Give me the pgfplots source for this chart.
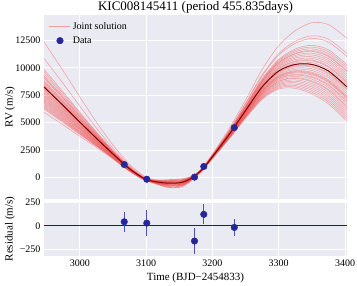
\documentclass[border=0pt]{standalone}
\usepackage{pgfplots}
\pgfplotsset{compat=1.18}
\usepackage{fontspec}
\setmainfont{Liberation Serif}
\definecolor{bgc}{RGB}{234,234,242}
\definecolor{jlc}{RGB}{240,85,85}
\definecolor{bestc}{RGB}{125,0,0}
\definecolor{datc}{RGB}{38,38,150}
\definecolor{errc}{RGB}{80,80,185}
\definecolor{zlc}{RGB}{128,0,0}
\pgfplotsset{
  sns/.style={
    scale only axis, width=303pt,
    xmin=2946, xmax=3403,
    axis background/.style={fill=bgc},
    axis line style={draw=none},
    grid=major, major grid style={white, line width=0.9pt},
    major tick length=0pt,
    tick label style={font=\fontsize{10}{12}\selectfont},
    label style={font=\fontsize{11}{13}\selectfont},
    /pgf/number format/assume math mode=true,
    /pgf/number format/1000 sep={},
    scaled ticks=false,
    xtick={3000,3100,3200,3300,3400},
    ylabel style={at={(axis description cs:-0.112,0.5)}, anchor=center},
  },
  jl/.style={color=jlc, opacity=0.5, line width=0.55pt, smooth, forget plot},
}
\begin{document}
\begin{tikzpicture}
\begin{axis}[sns, name=top, height=184pt,
  ymin=-1950, ymax=14800,
  ytick={0,2500,5000,7500,10000,12500},
  xticklabels={},
  ylabel={RV (m/s)},
  title={KIC008145411 (period 455.835days)},
  title style={font=\fontsize{13}{15}\selectfont, yshift=-8pt},
  legend cell align=left,
  legend style={draw=none, fill=none, at={(0,1)}, anchor=north west, xshift=2pt, yshift=-3pt, font=\fontsize{10}{12}\selectfont, row sep=2pt},
]
\addlegendimage{legend image code/.code={\draw[jlc, opacity=0.5, line width=0.6pt] (0pt,0pt) -- (21pt,0pt);}}
\addlegendentry{Joint solution}
\addlegendimage{legend image code/.code={\fill[datc] (10.5pt,0pt) circle (3.3pt);}}
\addlegendentry{Data}
\addplot[jl] coordinates {(2946,12350)(2975,9707)(3000,7346)(3025,5056)(3050,2970)(3075,1210)(3100,35)(3125,-290)(3140,-255)(3155,-195)(3170,105)(3185,914)(3200,2140)(3225,4428)(3250,7060)(3275,9834)(3300,12004)(3325,13372)(3350,14092)(3375,13924)(3403,12666)};
\addplot[jl] coordinates {(2946,10850)(2975,8552)(3000,6506)(3025,4516)(3050,2670)(3075,1060)(3100,-40)(3125,-350)(3140,-340)(3155,-270)(3170,70)(3185,869)(3200,2065)(3225,4263)(3250,6760)(3275,9339)(3300,11284)(3325,12412)(3350,12907)(3375,12604)(3403,11286)};
\addplot[jl] coordinates {(2946,9450)(2975,7474)(3000,5722)(3025,4012)(3050,2390)(3075,920)(3100,-110)(3125,-410)(3140,-425)(3155,-345)(3170,35)(3185,860)(3200,2050)(3225,4230)(3250,6700)(3275,9240)(3300,11140)(3325,12220)(3350,12670)(3375,12340)(3403,11010)};
\addplot[jl] coordinates {(2946,9850)(2975,7782)(3000,5946)(3025,4156)(3050,2470)(3075,960)(3100,-90)(3125,-230)(3140,-170)(3155,-120)(3170,140)(3185,836)(3200,2010)(3225,4142)(3250,6540)(3275,8976)(3300,10756)(3325,11708)(3350,12038)(3375,11636)(3403,10274)};
\addplot[jl] coordinates {(2946,8750)(2975,6935)(3000,5330)(3025,3760)(3050,2250)(3075,850)(3100,-145)(3125,-530)(3140,-595)(3155,-495)(3170,-35)(3185,830)(3200,2000)(3225,4120)(3250,6500)(3275,8910)(3300,10660)(3325,11580)(3350,11880)(3375,11460)(3403,10090)};
\addplot[jl] coordinates {(2946,9650)(2975,7628)(3000,5834)(3025,4084)(3050,2430)(3075,940)(3100,-100)(3125,-350)(3140,-340)(3155,-270)(3170,70)(3185,824)(3200,1990)(3225,4098)(3250,6460)(3275,8844)(3300,10564)(3325,11452)(3350,11722)(3375,11284)(3403,9906)};
\addplot[jl] coordinates {(2946,9150)(2975,7243)(3000,5554)(3025,3904)(3050,2330)(3075,890)(3100,-125)(3125,-470)(3140,-510)(3155,-420)(3170,0)(3185,815)(3200,1975)(3225,4065)(3250,6400)(3275,8745)(3300,10420)(3325,11260)(3350,11485)(3375,11020)(3403,9630)};
\addplot[jl] coordinates {(2946,7950)(2975,6319)(3000,4882)(3025,3472)(3050,2090)(3075,770)(3100,-185)(3125,-590)(3140,-680)(3155,-570)(3170,-70)(3185,809)(3200,1965)(3225,4043)(3250,6360)(3275,8679)(3300,10324)(3325,11132)(3350,11327)(3375,10844)(3403,9446)};
\addplot[jl] coordinates {(2946,9250)(2975,7320)(3000,5610)(3025,3940)(3050,2350)(3075,900)(3100,-120)(3125,-290)(3140,-255)(3155,-195)(3170,105)(3185,803)(3200,1955)(3225,4021)(3250,6320)(3275,8613)(3300,10228)(3325,11004)(3350,11169)(3375,10668)(3403,9262)};
\addplot[jl] coordinates {(2946,8450)(2975,6704)(3000,5162)(3025,3652)(3050,2190)(3075,820)(3100,-160)(3125,-410)(3140,-425)(3155,-345)(3170,35)(3185,797)(3200,1945)(3225,3999)(3250,6280)(3275,8547)(3300,10132)(3325,10876)(3350,11011)(3375,10492)(3403,9078)};
\addplot[jl] coordinates {(2946,9050)(2975,7166)(3000,5498)(3025,3868)(3050,2310)(3075,880)(3100,-130)(3125,-650)(3140,-765)(3155,-645)(3170,-105)(3185,791)(3200,1935)(3225,3977)(3250,6240)(3275,8481)(3300,10036)(3325,10748)(3350,10853)(3375,10316)(3403,8894)};
\addplot[jl] coordinates {(2946,7750)(2975,6165)(3000,4770)(3025,3400)(3050,2050)(3075,750)(3100,-195)(3125,-470)(3140,-510)(3155,-420)(3170,0)(3185,785)(3200,1925)(3225,3955)(3250,6200)(3275,8415)(3300,9940)(3325,10620)(3350,10695)(3375,10140)(3403,8710)};
\addplot[jl] coordinates {(2946,8850)(2975,7012)(3000,5386)(3025,3796)(3050,2270)(3075,860)(3100,-140)(3125,-350)(3140,-340)(3155,-270)(3170,70)(3185,782)(3200,1920)(3225,3944)(3250,6180)(3275,8382)(3300,9892)(3325,10556)(3350,10616)(3375,10052)(3403,8618)};
\addplot[jl] coordinates {(2946,7250)(2975,5780)(3000,4490)(3025,3220)(3050,1950)(3075,700)(3100,-220)(3125,-710)(3140,-850)(3155,-720)(3170,-140)(3185,776)(3200,1910)(3225,3922)(3250,6140)(3275,8316)(3300,9796)(3325,10428)(3350,10458)(3375,9876)(3403,8434)};
\addplot[jl] coordinates {(2946,8550)(2975,6781)(3000,5218)(3025,3688)(3050,2210)(3075,830)(3100,-155)(3125,-410)(3140,-425)(3155,-345)(3170,35)(3185,761)(3200,1885)(3225,3867)(3250,6040)(3275,8151)(3300,9556)(3325,10108)(3350,10063)(3375,9436)(3403,7974)};
\addplot[jl] coordinates {(2946,7650)(2975,6088)(3000,4714)(3025,3364)(3050,2030)(3075,740)(3100,-200)(3125,-590)(3140,-680)(3155,-570)(3170,-70)(3185,755)(3200,1875)(3225,3845)(3250,6000)(3275,8085)(3300,9460)(3325,9980)(3350,9905)(3375,9260)(3403,7790)};
\addplot[jl] coordinates {(2946,8350)(2975,6627)(3000,5106)(3025,3616)(3050,2170)(3075,810)(3100,-165)(3125,-230)(3140,-170)(3155,-120)(3170,140)(3185,749)(3200,1865)(3225,3823)(3250,5960)(3275,8019)(3300,9364)(3325,9852)(3350,9747)(3375,9084)(3403,7606)};
\addplot[jl] coordinates {(2946,7050)(2975,5626)(3000,4378)(3025,3148)(3050,1910)(3075,680)(3100,-230)(3125,-530)(3140,-595)(3155,-495)(3170,-35)(3185,743)(3200,1855)(3225,3801)(3250,5920)(3275,7953)(3300,9268)(3325,9724)(3350,9589)(3375,8908)(3403,7422)};
\addplot[jl] coordinates {(2946,8650)(2975,6858)(3000,5274)(3025,3724)(3050,2230)(3075,840)(3100,-150)(3125,-290)(3140,-255)(3155,-195)(3170,105)(3185,740)(3200,1850)(3225,3790)(3250,5900)(3275,7920)(3300,9220)(3325,9660)(3350,9510)(3375,8820)(3403,7330)};
\addplot[jl] coordinates {(2946,7450)(2975,5934)(3000,4602)(3025,3292)(3050,1990)(3075,720)(3100,-210)(3125,-650)(3140,-765)(3155,-645)(3170,-105)(3185,737)(3200,1845)(3225,3779)(3250,5880)(3275,7887)(3300,9172)(3325,9596)(3350,9431)(3375,8732)(3403,7238)};
\addplot[jl] coordinates {(2946,6750)(2975,5395)(3000,4210)(3025,3040)(3050,1850)(3075,650)(3100,-245)(3125,-410)(3140,-425)(3155,-345)(3170,35)(3185,734)(3200,1840)(3225,3768)(3250,5860)(3275,7854)(3300,9124)(3325,9532)(3350,9352)(3375,8644)(3403,7146)};
\addplot[jl] coordinates {(2946,8150)(2975,6473)(3000,4994)(3025,3544)(3050,2130)(3075,790)(3100,-175)(3125,-770)(3140,-935)(3155,-795)(3170,-175)(3185,728)(3200,1830)(3225,3746)(3250,5820)(3275,7788)(3300,9028)(3325,9404)(3350,9194)(3375,8468)(3403,6962)};
\addplot[jl] coordinates {(2946,6350)(2975,5087)(3000,3986)(3025,2896)(3050,1770)(3075,610)(3100,-265)(3125,-470)(3140,-510)(3155,-420)(3170,0)(3185,725)(3200,1825)(3225,3735)(3250,5800)(3275,7755)(3300,8980)(3325,9340)(3350,9115)(3375,8380)(3403,6870)};
\addplot[jl] coordinates {(2946,7850)(2975,6242)(3000,4826)(3025,3436)(3050,2070)(3075,760)(3100,-190)(3125,-350)(3140,-340)(3155,-270)(3170,70)(3185,719)(3200,1815)(3225,3713)(3250,5760)(3275,7689)(3300,8884)(3325,9212)(3350,8957)(3375,8204)(3403,6686)};
\addplot[jl] coordinates {(2946,6950)(2975,5549)(3000,4322)(3025,3112)(3050,1890)(3075,670)(3100,-235)(3125,-590)(3140,-680)(3155,-570)(3170,-70)(3185,713)(3200,1805)(3225,3691)(3250,5720)(3275,7623)(3300,8788)(3325,9084)(3350,8799)(3375,8028)(3403,6502)};
\addplot[jl] coordinates {(2946,7350)(2975,5857)(3000,4546)(3025,3256)(3050,1970)(3075,710)(3100,-215)(3125,-710)(3140,-850)(3155,-720)(3170,-140)(3185,710)(3200,1800)(3225,3680)(3250,5700)(3275,7590)(3300,8740)(3325,9020)(3350,8720)(3375,7940)(3403,6410)};
\addplot[jl] coordinates {(2946,6550)(2975,5241)(3000,4098)(3025,2968)(3050,1810)(3075,630)(3100,-255)(3125,-410)(3140,-425)(3155,-345)(3170,35)(3185,704)(3200,1790)(3225,3658)(3250,5660)(3275,7524)(3300,8644)(3325,8892)(3350,8562)(3375,7764)(3403,6226)};
\addplot[jl] coordinates {(2946,7150)(2975,5703)(3000,4434)(3025,3184)(3050,1930)(3075,690)(3100,-225)(3125,-530)(3140,-595)(3155,-495)(3170,-35)(3185,698)(3200,1780)(3225,3636)(3250,5620)(3275,7458)(3300,8548)(3325,8764)(3350,8404)(3375,7588)(3403,6042)};
\addplot[jl] coordinates {(2946,6250)(2975,5010)(3000,3930)(3025,2860)(3050,1750)(3075,600)(3100,-270)(3125,-650)(3140,-765)(3155,-645)(3170,-105)(3185,692)(3200,1770)(3225,3614)(3250,5580)(3275,7392)(3300,8452)(3325,8636)(3350,8246)(3375,7412)(3403,5858)};
\addplot[jl] coordinates {(2946,6850)(2975,5472)(3000,4266)(3025,3076)(3050,1870)(3075,660)(3100,-240)(3125,-350)(3140,-340)(3155,-270)(3170,70)(3185,686)(3200,1760)(3225,3592)(3250,5540)(3275,7326)(3300,8356)(3325,8508)(3350,8088)(3375,7236)(3403,5674)};
\addplot[jl] coordinates {(2946,6650)(2975,5318)(3000,4154)(3025,3004)(3050,1830)(3075,640)(3100,-250)(3125,-770)(3140,-935)(3155,-795)(3170,-175)(3185,680)(3200,1750)(3225,3570)(3250,5500)(3275,7260)(3300,8260)(3325,8380)(3350,7930)(3375,7060)(3403,5490)};
\addplot[jl] coordinates {(2946,5950)(2975,4779)(3000,3762)(3025,2752)(3050,1690)(3075,570)(3100,-285)(3125,-590)(3140,-680)(3155,-570)(3170,-70)(3185,674)(3200,1740)(3225,3548)(3250,5460)(3275,7194)(3300,8164)(3325,8252)(3350,7772)(3375,6884)(3403,5306)};
\addplot[jl] coordinates {(2946,6450)(2975,5164)(3000,4042)(3025,2932)(3050,1790)(3075,620)(3100,-260)(3125,-470)(3140,-510)(3155,-420)(3170,0)(3185,668)(3200,1730)(3225,3526)(3250,5420)(3275,7128)(3300,8068)(3325,8124)(3350,7614)(3375,6708)(3403,5122)};
\addplot[jl] coordinates {(2946,7550)(2975,6011)(3000,4658)(3025,3328)(3050,2010)(3075,730)(3100,-205)(3125,-530)(3140,-595)(3155,-495)(3170,-35)(3185,764)(3200,1890)(3225,3878)(3250,6060)(3275,8184)(3300,9604)(3325,10172)(3350,10142)(3375,9524)(3403,8066)};
\addplot[jl] coordinates {(2946,8250)(2975,6550)(3000,5050)(3025,3580)(3050,2150)(3075,800)(3100,-170)(3125,-410)(3140,-425)(3155,-345)(3170,35)(3185,770)(3200,1900)(3225,3900)(3250,6100)(3275,8250)(3300,9700)(3325,10300)(3350,10300)(3375,9700)(3403,8250)};
\addplot[jl] coordinates {(2946,8050)(2975,6396)(3000,4938)(3025,3508)(3050,2110)(3075,780)(3100,-180)(3125,-590)(3140,-680)(3155,-570)(3170,-70)(3185,818)(3200,1980)(3225,4076)(3250,6420)(3275,8778)(3300,10468)(3325,11324)(3350,11564)(3375,11108)(3403,9722)};
% best-fit curve
\addplot[bestc, line width=1pt, smooth, forget plot] coordinates {(2946,8250)(2975,6550)(3000,5050)(3025,3580)(3050,2150)(3075,800)(3100,-170)(3125,-470)(3140,-510)(3155,-420)(3170,0)(3185,770)(3200,1900)(3225,3900)(3250,6100)(3275,8250)(3300,9700)(3325,10300)(3350,10300)(3375,9700)(3403,8250)};
% data
\addplot[only marks, mark=*, mark size=3.3pt, color=datc, forget plot] coordinates {(3067,1190)(3101,-150)(3173,40)(3187,1010)(3233,4550)};
\end{axis}
\begin{axis}[sns, at={(top.south west)}, anchor=north west, yshift=-3pt, height=54pt,
  ymin=-320, ymax=253,
  ytick={-250,0,250}, yticklabels={−250,0,250},
  xlabel={Time (BJD−2454833)},
  ylabel={Residual (m/s)},
]
\addplot[zlc, line width=0.9pt] coordinates {(2946,0)(3403,0)};
\addplot[only marks, mark=*, mark size=3.3pt, color=datc,
  error bars/.cd, y dir=both, y explicit, error mark=none,
  error bar style={errc, line width=1.2pt}]
  coordinates {(3067,43) +- (0,107) (3101,29) +- (0,134) (3173,-161) +- (0,140) (3187,122) +- (0,105) (3233,-17) +- (0,93)};
\end{axis}
\pgfresetboundingbox
\useasboundingbox ([shift={(-44pt,15pt)}]top.north west) rectangle ([shift={(313pt,-270pt)}]top.north west);
\end{tikzpicture}
\end{document}
